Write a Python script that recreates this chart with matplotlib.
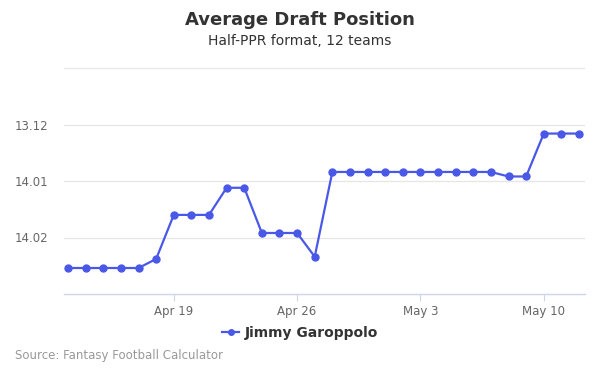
#!/usr/bin/env python3

import datetime as dt
import matplotlib
matplotlib.use("Agg")
import matplotlib.pyplot as plt
import matplotlib.dates as mdates

# ADP as overall pick number (12 teams)
startDate = dt.date(2018, 4, 13)
adpValues = [157.27, 157.27, 157.27, 157.27, 157.27, 157.19,
             156.80, 156.80, 156.80, 156.56, 156.56,
             156.96, 156.96, 156.96, 157.17,
             156.42, 156.42, 156.42, 156.42, 156.42, 156.42, 156.42,
             156.42, 156.42, 156.42, 156.46, 156.46,
             156.08, 156.08, 156.08]
dates = [startDate + dt.timedelta(days=i) for i in range(len(adpValues))]

yTicks = [156.0, 156.5, 157.0]
yTickLabels = ["13.12", "14.01", "14.02"]
xTickDates = [dt.date(2018, 4, 19), dt.date(2018, 4, 26), dt.date(2018, 5, 3), dt.date(2018, 5, 10)]
xTickLabels = ["Apr 19", "Apr 26", "May 3", "May 10"]
playerName = "Jimmy Garoppolo"

lineColor = "#4a58e8"

fig = plt.figure(figsize=(6, 3.75), dpi=100)
ax = fig.add_axes([64 / 600, 1 - 294 / 375, 521 / 600, 226 / 375])

ax.plot(dates, adpValues, color=lineColor, linewidth=1.6, marker="o",
        markersize=5, label=playerName, zorder=3)

ax.set_ylim(157.5, 155.5)
ax.set_yticks(yTicks)
ax.set_yticklabels(yTickLabels)
ax.set_xlim(mdates.date2num(dates[0]) - 0.23, mdates.date2num(dates[-1]) + 0.34)
ax.set_xticks([mdates.date2num(d) for d in xTickDates])
ax.set_xticklabels(xTickLabels)

for yv in yTicks + [155.5]:
    ax.axhline(yv, color="#e6e6e6", linewidth=0.9, zorder=1)

for side in ["top", "right", "left"]:
    ax.spines[side].set_visible(False)
ax.spines["bottom"].set_color("#ccd6eb")
ax.spines["bottom"].set_linewidth(1)

ax.tick_params(axis="y", length=0, labelsize=8.5, labelcolor="#666666", pad=11)
ax.tick_params(axis="x", length=5, color="#ccd6eb", labelsize=8.5, labelcolor="#666666", pad=3)

fig.text(0.5, 1 - 20 / 375, "Average Draft Position", ha="center", va="center",
         fontsize=13, fontweight="bold", color="#333333")
fig.text(0.5, 1 - 41 / 375, "Half-PPR format, 12 teams", ha="center", va="center",
         fontsize=10, color="#333333")

leg = fig.legend(loc="center", bbox_to_anchor=(0.5, 1 - 333 / 375), frameon=False,
                 prop={"weight": "bold", "size": 10}, handlelength=1.2,
                 handletextpad=0.4, markerscale=0.8)
for t in leg.get_texts():
    t.set_color("#333333")

fig.text(15 / 600, 1 - 356 / 375, "Source: Fantasy Football Calculator", ha="left",
         va="center", fontsize=8.5, color="#999999")

fig.savefig("out.png", dpi=100)
